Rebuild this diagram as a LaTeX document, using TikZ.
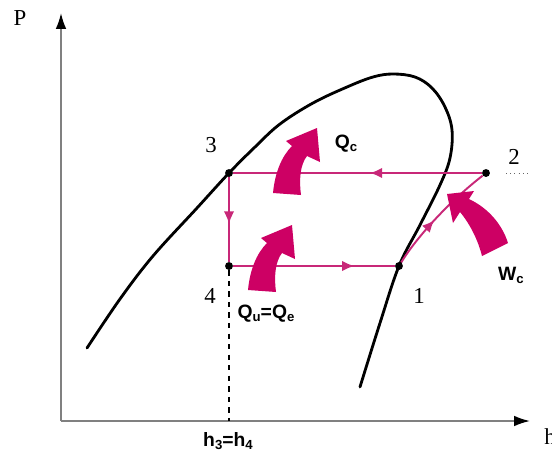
\documentclass[tikz,border=0pt]{standalone}
\usepackage{fontspec}
\setmainfont{Liberation Serif}
\setsansfont{Liberation Sans}
\usetikzlibrary{arrows.meta,decorations.markings}
\definecolor{cyclered}{RGB}{200,40,120}
\definecolor{heatred}{RGB}{205,0,100}
\newcommand{\lowidx}[1]{\raisebox{-0.3ex}{\fontsize{7.5}{8}\selectfont #1}}
\tikzset{pics/heatarrow/.style={code={\fill[heatred] (-14,-1) .. controls (-12,-22) and (-5,-38) .. (5,-48) -- (-1,-53) -- (30,-66) -- (33,-32) -- (20,-38) .. controls (13,-29) and (12,-14) .. (14,1) -- cycle;}}}

\begin{document}
\begin{tikzpicture}[x=0.02cm,y=-0.02cm,
  dot/.style={circle,fill=black,inner sep=0pt,minimum size=4.5pt},
  cyc/.style={cyclered,line width=1.1pt},
  midarrow/.style={postaction={decorate,decoration={markings,mark=at position #1 with {\arrow{Latex[length=7pt,width=6pt]}}}}},
  axis/.style={black!50,line width=1pt,-{Latex[length=9pt,width=6pt,color=black]}},
  numlab/.style={font=\fontsize{13}{15}\selectfont},
  qlab/.style={font=\sffamily\bfseries\fontsize{11}{13}\selectfont}]
\useasboundingbox (0,0) rectangle (552,454);
% axes
\coordinate (o) at (61,421);\coordinate (ytop) at (61,13);\coordinate (xend) at (530,421);\coordinate (h34) at (229,421);
\draw[axis] (o) -- (ytop);\draw[axis] (o) -- (xend);
\node[numlab] (lP) at (20,18) {P};
\node[numlab,anchor=west,inner sep=0pt] (lh) at (544,437) {h};
% saturation dome
\draw[line width=1.6pt,line cap=round] plot[smooth,tension=0.6] coordinates {(87,348) (120,299) (153,256) (197,208) (229,173) (255,147) (280,124) (313,103) (347,87) (373,77) (393,74) (415,77) (432,88) (445,107) (452,130) (450,158) (440,185) (420,225) (399,266) (380,323) (360,387)};
% cycle
\foreach \n/\x/\y in {1/399/266,2/486/173,3/229/173,4/229/266}{\node[dot] (p\n) at (\x,\y) {};}
\foreach \n/\x/\y in {1/419/296,2/514/157,3/211/145,4/210/296}{\node[numlab] (l\n) at (\x,\y) {\n};}
\draw[dotted,black!60] (506,173) -- (530,173);
\draw[cyc,midarrow=0.45] (p2) -- (p3);
\draw[cyc,midarrow=0.55] (p3) -- (p4);
\draw[cyc,midarrow=0.75] (p4) -- (p1);
\draw[cyc,midarrow=0.45] (p1) .. controls (415,240) and (445,205) .. (p2);
\draw[dashed,line width=0.8pt] (p4) -- (h34);
% heat and work
\pic at (287,194) {heatarrow};\pic at (262,291) {heatarrow};
\fill[heatred] (482,256) .. controls (478,240) and (470,224) .. (460,212) -- (453,223) -- (447,194) -- (474,191) -- (469,199) .. controls (488,208) and (502,224) .. (508,243) -- cycle;
\node[qlab] (lqc) at (346,144) {Q\lowidx{c}};
\node[qlab] (lqu) at (266,314) {Q\lowidx{u}=Q\lowidx{e}};
\node[qlab] (lwc) at (511,275) {W\lowidx{c}};
\node[qlab] (lh34) at (228,441) {h\lowidx{3}=h\lowidx{4}};
\end{tikzpicture}
\end{document}
